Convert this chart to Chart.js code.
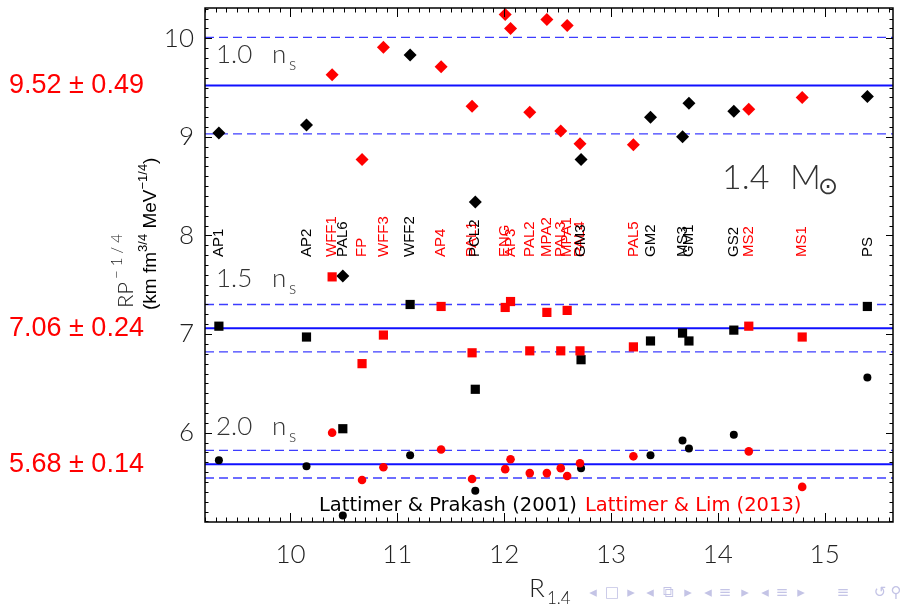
<!DOCTYPE html>
<html>
<head>
<meta charset="utf-8">
<script src="https://cdn.jsdelivr.net/npm/chart.js@4.4.1/dist/chart.umd.min.js"></script>
<style>
  html, body { margin: 0; padding: 0; background: #fff; }
</style>
</head>
<body>
<canvas id="rpChart" width="900" height="605"></canvas>
<script>
// EOS models: name, R_1.4 (km), source (LP = Lattimer & Prakash 2001, LL = Lattimer & Lim 2013)
const MODELS = ['AP1', 'AP2', 'WFF1', 'PAL6', 'FP', 'WFF3', 'WFF2', 'AP4', 'PAL1', 'PCL2', 'ENG', 'AP3', 'PAL2',
    'MPA2', 'PAL3', 'MPA1', 'PAL4', 'GM3', 'PAL5', 'GM2', 'MS3', 'GM1', 'GS2', 'MS2', 'MS1', 'PS'];
const R14 = [9.33, 10.15, 10.39, 10.49, 10.67, 10.87, 11.12, 11.41, 11.70, 11.73, 12.01, 12.06, 12.24,
    12.40, 12.53, 12.59, 12.71, 12.72, 13.21, 13.37, 13.67, 13.73, 14.15, 14.29, 14.79, 15.40];
const SOURCE = ['LP', 'LP', 'LL', 'LP', 'LL', 'LL', 'LP', 'LL', 'LL', 'LP', 'LL', 'LL', 'LL',
    'LL', 'LL', 'LL', 'LL', 'LP', 'LL', 'LP', 'LP', 'LP', 'LP', 'LL', 'LL', 'LP'];

// R P^-1/4 at 1.0, 1.5 and 2.0 n_s
const RP_10 = [9.04, 9.12, 9.63, 7.59, 8.77, 9.91, 9.83, 9.71, 9.31, 8.34, 10.24, 10.10, 9.25,
    10.19, 9.06, 10.13, 8.93, 8.77, 8.92, 9.20, 9.00, 9.34, 9.26, 9.28, 9.40, 9.41];
const RP_15 = [7.08, 6.97, 7.58, 6.04, 6.70, 6.99, 7.30, 7.28, 6.81, 6.44, 7.27, 7.33, 6.83,
    7.22, 6.83, 7.24, 6.83, 6.74, 6.87, 6.93, 7.01, 6.93, 7.04, 7.08, 6.97, 7.28];
const RP_20 = [5.72, 5.66, 6.00, 5.16, 5.52, 5.65, 5.77, 5.83, 5.53, 5.41, 5.63, 5.73, 5.59,
    5.59, 5.64, 5.56, 5.69, 5.64, 5.76, 5.77, 5.92, 5.84, 5.98, 5.81, 5.45, 6.56];

// fitted means and errors
const MEAN_RP = [9.52, 7.06, 5.68];
const ERR_RP = [0.49, 0.24, 0.14];
const DENSITY_LABELS = ['1.0', '1.5', '2.0'];
const DENSITY_LABEL_Y = [63, 287, 435];

// axes
const X_MIN = 9.2, X_MAX = 15.64;
const Y_MIN = 5.094, Y_MAX = 10.307;
const X_TICKS = [10, 11, 12, 13, 14, 15];
const Y_TICKS = [6, 7, 8, 9, 10];

const RED = '#ff0000';
const BLACK = '#000000';
const BLUE = '#1010ff';
const THIN = "Lato, 'DejaVu Sans', sans-serif";
const SANS = "'Liberation Sans', Arial, sans-serif";

function pts(vals, src) {
    return R14.map((r, i) => ({ x: r, y: vals[i] })).filter((p, i) => SOURCE[i] === src);
}

function marks(vals, src, style, radius) {
    const c = src === 'LL' ? RED : BLACK;
    return {
        data: pts(vals, src),
        pointStyle: style,
        pointRadius: radius,
        backgroundColor: c,
        borderColor: c,
        borderWidth: 0,
        showLine: false
    };
}

function hline(v, dashed) {
    return {
        data: [{ x: X_MIN, y: v }, { x: X_MAX, y: v }],
        showLine: true,
        pointRadius: 0,
        borderColor: dashed ? 'rgba(40,40,255,0.9)' : BLUE,
        borderWidth: dashed ? 1.3 : 2,
        borderDash: dashed ? [9, 5] : []
    };
}

// red drawn above black, points above lines (first dataset is drawn last)
const datasets = [
    marks(RP_10, 'LL', 'rectRot', 6.5),
    marks(RP_15, 'LL', 'rect', 6.5),
    marks(RP_20, 'LL', 'circle', 4.3),
    marks(RP_10, 'LP', 'rectRot', 6.5),
    marks(RP_15, 'LP', 'rect', 6.5),
    marks(RP_20, 'LP', 'circle', 4)
];
MEAN_RP.forEach((m, k) => {
    datasets.push(hline(m, false));
    datasets.push(hline(m + ERR_RP[k], true));
    datasets.push(hline(m - ERR_RP[k], true));
});

// beamer navigation symbols at the bottom right
const NAV = [[593, '◂'], [612, '□'], [631, '▸'], [650, '◂'], [668, '⧉'], [688, '▸'], [708, '◂'], [725, '≡'],
    [745, '▸'], [765, '◂'], [782, '≡'], [801, '▸'], [843, '≡'], [880, '↺'], [896, '⚲']];

const decor = {
    id: 'decor',
    afterDraw(chart) {
        const { ctx, chartArea: a, scales: { x, y } } = chart;
        ctx.save();

        // minor / major ticks on all four sides
        ctx.strokeStyle = '#000';
        ctx.lineWidth = 1;
        ctx.beginPath();
        for (let i = Math.ceil(X_MIN * 10); i <= Math.floor(X_MAX * 10); i++) {
            const px = Math.round(x.getPixelForValue(i / 10)) + 0.5;
            const len = i % 10 === 0 ? 9 : 4.5;
            ctx.moveTo(px, a.bottom); ctx.lineTo(px, a.bottom - len);
            ctx.moveTo(px, a.top); ctx.lineTo(px, a.top + len);
        }
        for (let i = Math.ceil(Y_MIN * 10); i <= Math.floor(Y_MAX * 10); i++) {
            const py = Math.round(y.getPixelForValue(i / 10)) + 0.5;
            const len = i % 10 === 0 ? 7 : 3.5;
            ctx.moveTo(a.left, py); ctx.lineTo(a.left + len, py);
            ctx.moveTo(a.right, py); ctx.lineTo(a.right - len, py);
        }
        ctx.stroke();
        ctx.lineWidth = 1.5;
        ctx.strokeRect(a.left, a.top, a.right - a.left, a.bottom - a.top);

        // model names, rotated
        ctx.font = '15px ' + SANS;
        ctx.textAlign = 'left';
        ctx.textBaseline = 'middle';
        MODELS.forEach((name, i) => {
            ctx.save();
            ctx.translate(x.getPixelForValue(R14[i]), 257);
            ctx.rotate(-Math.PI / 2);
            ctx.fillStyle = SOURCE[i] === 'LL' ? RED : BLACK;
            ctx.fillText(name, 0, 0);
            ctx.restore();
        });

        // density labels
        ctx.fillStyle = '#333';
        ctx.textBaseline = 'alphabetic';
        DENSITY_LABELS.forEach((lab, k) => {
            const by = DENSITY_LABEL_Y[k];
            ctx.font = '300 26px ' + THIN;
            ctx.fillText(lab, 216, by);
            ctx.fillText('n', 272, by);
            ctx.font = '300 17px ' + THIN;
            ctx.fillText('s', 289, by + 7);
        });

        // 1.4 Msun
        ctx.font = '300 34px ' + THIN;
        ctx.fillText('1.4', 722, 189);
        ctx.fillText('M', 790, 189);
        ctx.font = '300 24px ' + THIN;
        ctx.fillText('⊙', 818, 194);

        // fitted values on the left
        ctx.fillStyle = RED;
        ctx.font = '27px ' + SANS;
        ctx.textBaseline = 'middle';
        MEAN_RP.forEach((m, k) => {
            ctx.fillText(m.toFixed(2) + ' \u00b1 ' + ERR_RP[k].toFixed(2), 9, y.getPixelForValue(m));
        });

        // legend text
        ctx.textBaseline = 'alphabetic';
        ctx.font = "19.5px 'DejaVu Sans', sans-serif";
        ctx.fillStyle = BLACK;
        ctx.fillText('Lattimer & Prakash (2001)', 319, 511);
        ctx.fillStyle = RED;
        ctx.fillText('Lattimer & Lim (2013)', 585, 511);

        // y axis title
        ctx.save();
        ctx.translate(133, 308);
        ctx.rotate(-Math.PI / 2);
        ctx.fillStyle = '#222';
        ctx.font = '300 22px ' + THIN;
        ctx.fillText('RP', 0, 0);
        let w = ctx.measureText('RP').width;
        ctx.font = '300 15px ' + THIN;
        ctx.fillText('\u2212 1 / 4', w + 3, -11);
        ctx.restore();

        ctx.save();
        ctx.translate(156, 310);
        ctx.rotate(-Math.PI / 2);
        ctx.fillStyle = '#000';
        let cx = 0;
        const part = (txt, size, dy) => {
            ctx.font = size + 'px ' + SANS;
            ctx.fillText(txt, cx, dy);
            cx += ctx.measureText(txt).width;
        };
        part('(km fm', 19, 0);
        part('3/4', 13, -9);
        part(' MeV', 19, 0);
        part('\u22121/4', 13, -9);
        part(')', 19, 0);
        ctx.restore();

        // x axis title
        ctx.fillStyle = '#222';
        ctx.font = '300 26px ' + THIN;
        ctx.fillText('R', 529, 597);
        ctx.font = '300 17px ' + THIN;
        ctx.fillText('1.4', 547, 604);

        // navigation symbols
        ctx.fillStyle = '#c4c4e6';
        ctx.font = "15px 'DejaVu Sans', sans-serif";
        ctx.textAlign = 'center';
        ctx.textBaseline = 'middle';
        NAV.forEach(([nx, s]) => ctx.fillText(s, nx, 593));

        ctx.restore();
    }
};

const ctx = document.getElementById('rpChart').getContext('2d');
const chart = new Chart(ctx, {
    type: 'scatter',
    data: { datasets: datasets },
    options: {
        responsive: false,
        animation: false,
        layout: { padding: { top: 8, right: 7, left: 0, bottom: 0 } },
        plugins: {
            legend: { display: false },
            tooltip: { enabled: false }
        },
        scales: {
            x: {
                type: 'linear',
                min: X_MIN,
                max: X_MAX,
                grid: { display: false, drawTicks: false },
                border: { display: false },
                afterBuildTicks: s => { s.ticks = X_TICKS.map(v => ({ value: v })); },
                afterFit: s => { s.height = 83; s.paddingLeft = 0; s.paddingRight = 0; },
                ticks: { padding: 17, color: '#222', font: { family: THIN, size: 26, weight: 300 } }
            },
            y: {
                type: 'linear',
                min: Y_MIN,
                max: Y_MAX,
                grid: { display: false, drawTicks: false },
                border: { display: false },
                afterBuildTicks: s => { s.ticks = Y_TICKS.map(v => ({ value: v })); },
                afterFit: s => { s.width = 205; s.paddingTop = 0; s.paddingBottom = 0; },
                ticks: { padding: 11, color: '#222', font: { family: THIN, size: 26, weight: 300 } }
            }
        }
    },
    plugins: [decor]
});
</script>
</body>
</html>
